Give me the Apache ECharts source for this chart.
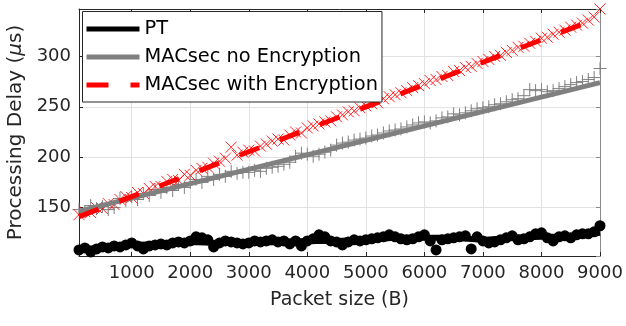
<!DOCTYPE html>
<html><head><meta charset="utf-8">
<script src="https://cdn.jsdelivr.net/npm/echarts@6/dist/echarts.min.js"></script>
<style>html,body{margin:0;padding:0;background:#fff}#c{width:626px;height:326px}</style>
</head><body><div id="c"></div>
<script>
// ---- data ----
const packetSizes = [100,200,300,400,500,600,700,800,900,1000,
  1100,1200,1300,1400,1500,1600,1700,1800,1900,2000,
  2100,2200,2300,2400,2500,2600,2700,2800,2900,3000,
  3100,3200,3300,3400,3500,3600,3700,3800,3900,4000,
  4100,4200,4300,4400,4500,4600,4700,4800,4900,5000,
  5100,5200,5300,5400,5500,5600,5700,5800,5900,6000,
  6100,6200,6300,6400,6500,6600,6700,6800,6900,7000,
  7100,7200,7300,7400,7500,7600,7700,7800,7900,8000,
  8100,8200,8300,8400,8500,8600,8700,8800,8900,9000];

const ptValues = [108,110,106,109,111,110,112,111,113,115,
  112,109,112,113,114,113,115,116,115,117,
  121,120,118,111,115,117,116,115,114,115,
  117,116,117,118,116,117,114,117,112,117,
  119,123,121,117,116,113,116,118,117,118,
  119,120,121,123,121,119,118,119,121,123,
  117,108,118,119,120,121,122,109,121,117,
  115,116,118,120,122,118,119,121,124,125,
  120,117,121,122,120,123,124,124,126,132];

const noEncValues = [148,146,152,149,151,148,150,159,157,161,
  158,164,162,168,165,170,167,173,170,175,
  178,175,181,178,183,181,186,184,185,185,
  187,186,189,190,191,193,195,201,204,203,
  201,203,205,207,212,214,215,217,218,219,
  221,222,224,226,227,228,230,232,234,235,
  234,236,239,240,243,242,244,246,248,249,
  250,252,253,255,257,258,261,267,266,267,
  265,266,268,270,272,274,275,277,279,288];

const encValues = [143,146,145,150,149,154,153,158,161,160,
  165,164,169,171,171,176,178,177,183,182,
  187,189,190,194,196,199,210,202,205,207,
  206,211,213,216,218,217,222,225,224,229,
  231,233,235,236,240,242,245,246,249,251,
  253,254,258,260,262,264,266,269,271,273,
  276,277,280,281,285,286,289,290,293,295,
  297,300,301,304,306,309,310,313,315,318,
  319,322,324,326,329,331,333,336,339,347];

// trend lines drawn under the markers
const ptTrendX = [100,500,1000,1500,2000,2500,3000,3500,4000,4500,5000,5500,6000,6500,7000,7500,8000,8500,9000];
const ptTrend  = [109,110,113,114,116,115,115,116,117,117,118,120,120,120,118,120,121,121,125];
const noEncTrendX = [100, 9000];
const noEncTrend  = [146.5, 274];
const encTrendX = [100, 9000];
const encTrend  = [141, 338.6];

const seriesNames = ['PT', 'MACsec no Encryption', 'MACsec with Encryption'];
const xTickValues = [1000,2000,3000,4000,5000,6000,7000,8000,9000];
const yTickValues = [150,200,250,300];

// ---- chart ----
const FONT = 'DejaVu Sans';
const TXT = '#262626';
const pairs = (xs, ys) => xs.map((x, i) => [x, ys[i]]);
const plusPath = 'path://M0,6H12M6,0V12';
const crossPath = 'path://M0,0L12,12M12,0L0,12';

const chart = echarts.init(document.getElementById('c'), null, {renderer: 'canvas', width: 626, height: 326});

const frameAxis = (extra) => Object.assign({
  type: 'value', min: 100, max: 9000, splitNumber: 9,
  axisLine: {show: true, lineStyle: {color: TXT, width: 1}},
  axisTick: {show: true, inside: true, length: 4, lineStyle: {color: TXT}},
  axisLabel: {show: false}, splitLine: {show: false}
}, extra);

chart.setOption({
  animation: false,
  backgroundColor: '#fff',
  grid: {left: 79, right: 26, top: 9, bottom: 70, containLabel: false, outerBoundsMode: 'none'},
  legend: {
    orient: 'vertical', left: 82.5, top: 11.5,
    padding: [7, 4, 6.5, 4], itemGap: 7, itemWidth: 53, itemHeight: 5,
    backgroundColor: '#fff', borderColor: TXT, borderWidth: 1, borderRadius: 0,
    textStyle: {fontFamily: FONT, fontSize: 19.4, color: '#000', lineHeight: 21},
    itemStyle: {borderWidth: 0},
    selectedMode: false,
    data: [
      {name: seriesNames[0], icon: 'rect'},
      {name: seriesNames[1], icon: 'rect'},
      {name: seriesNames[2], icon: 'path://M0,0H22V5H0Z M44,0H53V5H44Z'}
    ]
  },
  xAxis: [
    frameAxis({
      position: 'bottom',
      name: 'Packet size (B)', nameLocation: 'middle', nameGap: 35,
      nameTextStyle: {fontFamily: FONT, fontSize: 19, color: TXT},
      axisLabel: {show: true, showMinLabel: false, showMaxLabel: true, margin: 8,
        fontFamily: FONT, fontSize: 18, color: TXT,
        formatter: v => xTickValues.includes(v) ? String(v) : ''},
      splitLine: {show: true, lineStyle: {color: '#e2e2e2', width: 1}}
    }),
    frameAxis({position: 'top'})
  ],
  yAxis: [
    frameAxis({
      min: 102, max: 347, splitNumber: 5, position: 'left',
      name: '{a|Processing Delay (}{b|μ}{a|s)}', nameLocation: 'middle', nameGap: 48, nameRotate: 90,
      nameTextStyle: {rich: {
        a: {fontFamily: FONT, fontSize: 20, color: TXT},
        b: {fontFamily: FONT, fontSize: 20, fontStyle: 'italic', color: TXT}
      }},
      axisLabel: {show: true, showMinLabel: false, showMaxLabel: false, margin: 8,
        fontFamily: FONT, fontSize: 18, color: TXT,
        formatter: v => yTickValues.includes(v) ? String(v) : ''},
      splitLine: {show: true, lineStyle: {color: '#e2e2e2', width: 1}}
    }),
    frameAxis({min: 102, max: 347, splitNumber: 5, position: 'right',
      axisLine: {show: true, lineStyle: {color: '#8a8a8a', width: 1}},
      axisTick: {show: true, inside: true, length: 4, lineStyle: {color: '#8a8a8a'}}})
  ],
  series: [
    {name: seriesNames[0], type: 'line', color: '#000', data: pairs(ptTrendX, ptTrend),
      symbol: 'none', showSymbol: false, lineStyle: {color: '#000', width: 6}, itemStyle: {color: '#000'}},
    {name: 'pt-markers', type: 'scatter', data: pairs(packetSizes, ptValues),
      symbol: 'circle', symbolSize: 11, itemStyle: {color: '#000', opacity: 1}},
    {name: seriesNames[1], type: 'line', color: '#808080', data: pairs(noEncTrendX, noEncTrend),
      symbol: 'none', showSymbol: false, lineStyle: {color: '#808080', width: 5}, itemStyle: {color: '#808080'}},
    {name: 'noenc-markers', type: 'scatter', data: pairs(packetSizes, noEncValues),
      symbol: plusPath, symbolSize: 13,
      itemStyle: {color: 'rgba(0,0,0,0)', borderColor: '#808080', borderWidth: 1, opacity: 1}},
    {name: seriesNames[2], type: 'line', color: '#ff0000', data: pairs(encTrendX, encTrend),
      symbol: 'none', showSymbol: false,
      lineStyle: {color: '#ff0000', width: 5, type: [21, 22], dashOffset: 0, cap: 'butt'}, itemStyle: {color: '#ff0000'}},
    {name: 'enc-markers', type: 'scatter', data: pairs(packetSizes, encValues),
      symbol: crossPath, symbolSize: 11,
      itemStyle: {color: 'rgba(0,0,0,0)', borderColor: 'rgba(255,0,0,0.85)', borderWidth: 1, opacity: 1}}
  ]
});
</script>
</body></html>
